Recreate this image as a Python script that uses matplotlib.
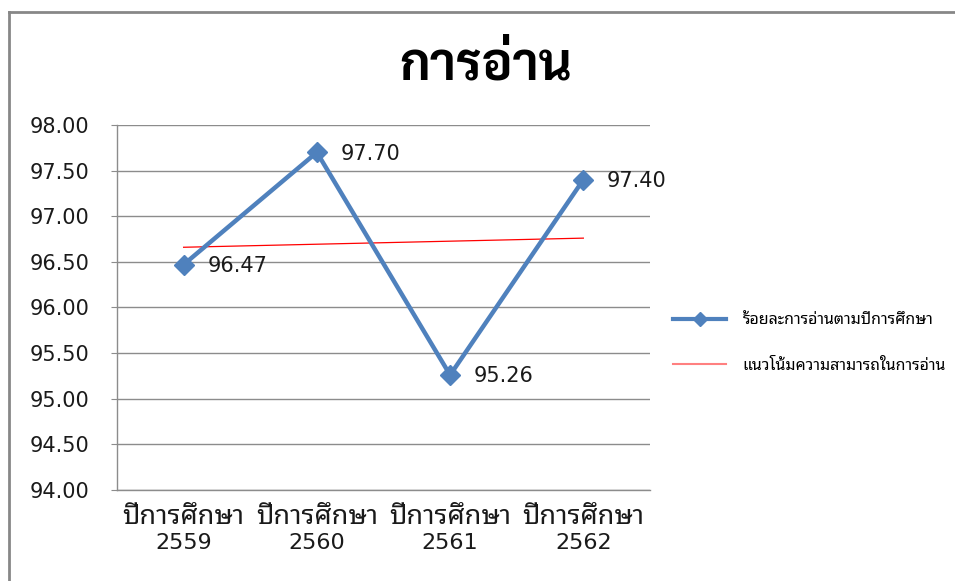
import matplotlib
matplotlib.use("Agg")
import matplotlib.pyplot as plt
from matplotlib.lines import Line2D

# data
cat_word = "ปีการศึกษา"
years = ["2559", "2560", "2561", "2562"]
values = [96.47, 97.70, 95.26, 97.40]
trend_ends = [96.66, 96.76]  # linear trend line, first and last category
yticks = [94.0, 94.5, 95.0, 95.5, 96.0, 96.5, 97.0, 97.5, 98.0]
title = "การอ่าน"
series_name = "ร้อยละการอ่านตามปีการศึกษา"
trend_name = "แนวโน้มความสามารถในการอ่าน"

# digits from DejaVu Sans, Thai glyphs fall back to Noto Sans Thai Looped
plt.rcParams["font.family"] = ["DejaVu Sans", "Noto Sans Thai Looped"]

blue = "#4F81BD"
grid_col = "#8C8C8C"
txt = "#1A1A1A"

fig = plt.figure(figsize=(9.55, 5.81), dpi=100)
ax = fig.add_axes([0.1225, 0.1566, 0.5581, 0.6283])

x = list(range(1, len(values) + 1))
ax.plot(x, values, color=blue, lw=3.2, marker="D", markersize=10, zorder=3)
ax.plot([x[0], x[-1]], trend_ends, color="#FF0000", lw=0.9, zorder=2)

for xi, v in zip(x, values):
    ax.annotate(f"{v:.2f}", (xi, v), xytext=(17, -1), textcoords="offset points",
                ha="left", va="center", fontsize=15, color=txt)

ax.set_xlim(0.5, 4.5)
ax.set_ylim(94, 98)
ax.set_yticks(yticks)
ax.set_yticklabels([f"{t:.2f}" for t in yticks], fontsize=15, color=txt)

# two-line category labels: Thai word on major ticks, year on minor ticks
ax.xaxis.remove_overlapping_locs = False
ax.set_xticks(x)
ax.set_xticklabels([cat_word] * len(x), fontsize=19.5, color=txt)
ax.set_xticks(x, minor=True)
ax.set_xticklabels(years, minor=True, fontsize=16, color=txt)
ax.tick_params(axis="x", which="major", length=0, pad=10)
ax.tick_params(axis="x", which="minor", length=0, pad=31)

ax.tick_params(axis="y", length=4, color=grid_col, pad=16)
ax.yaxis.grid(True, color=grid_col, lw=1)
ax.set_axisbelow(True)
for s in ["top", "right"]:
    ax.spines[s].set_visible(False)
for s in ["left", "bottom"]:
    ax.spines[s].set_color(grid_col)
    ax.spines[s].set_linewidth(1)

fig.text(0.509, 0.885, title, fontsize=37, fontweight="bold", ha="center", va="center",
         family=["Sarabun", "Noto Sans Thai Looped"])

handles = [Line2D([], [], color=blue, lw=3, marker="D", markersize=7),
           Line2D([], [], color="#FF8080", lw=1.5)]
fig.legend(handles, [series_name, trend_name], loc="center left",
           bbox_to_anchor=(0.69, 0.41), frameon=False, fontsize=11.5,
           handlelength=3.3, labelspacing=1.9, handletextpad=1.05)

# outer frame (left and top edges visible in the reference)
fig.add_artist(Line2D([0.009, 0.009], [0.0, 0.979], transform=fig.transFigure,
                      color="#878787", lw=2))
fig.add_artist(Line2D([0.009, 1.0], [0.979, 0.979], transform=fig.transFigure,
                      color="#878787", lw=2))

fig.savefig("out.png", dpi=100)
